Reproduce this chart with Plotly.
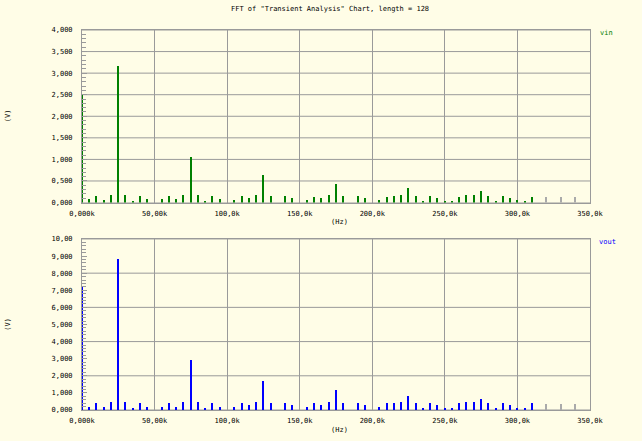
import plotly.graph_objects as go

# ---------------- data ----------------
freq_hz = [0, 5000, 10000, 15000, 20000, 25000, 30000, 35000, 40000, 45000,
           50000, 55000, 60000, 65000, 70000, 75000, 80000, 85000, 90000, 95000,
           100000, 105000, 110000, 115000, 120000, 125000, 130000, 135000, 140000, 145000,
           150000, 155000, 160000, 165000, 170000, 175000, 180000, 185000, 190000, 195000,
           200000, 205000, 210000, 215000, 220000, 225000, 230000, 235000, 240000, 245000,
           250000, 255000, 260000, 265000, 270000, 275000, 280000, 285000, 290000, 295000,
           300000, 305000, 310000]

vin = [2.50, 0.08, 0.15, 0.05, 0.17, 3.17, 0.17, 0.03, 0.15, 0.08,
       0.00, 0.08, 0.15, 0.08, 0.17, 1.05, 0.17, 0.03, 0.15, 0.08,
       0.00, 0.05, 0.15, 0.10, 0.17, 0.63, 0.15, 0.00, 0.15, 0.10,
       0.00, 0.05, 0.14, 0.10, 0.17, 0.44, 0.15, 0.00, 0.15, 0.10,
       0.00, 0.05, 0.14, 0.15, 0.17, 0.33, 0.15, 0.04, 0.15, 0.10,
       0.03, 0.04, 0.14, 0.17, 0.17, 0.26, 0.15, 0.04, 0.15, 0.10,
       0.05, 0.04, 0.14]

vout = [7.20, 0.20, 0.40, 0.15, 0.50, 8.85, 0.50, 0.10, 0.40, 0.20,
        0.00, 0.20, 0.40, 0.20, 0.50, 2.90, 0.50, 0.10, 0.40, 0.20,
        0.00, 0.15, 0.40, 0.30, 0.50, 1.70, 0.40, 0.00, 0.40, 0.30,
        0.00, 0.15, 0.40, 0.30, 0.50, 1.15, 0.40, 0.00, 0.40, 0.30,
        0.00, 0.15, 0.40, 0.40, 0.50, 0.85, 0.40, 0.10, 0.40, 0.30,
        0.10, 0.10, 0.40, 0.50, 0.50, 0.65, 0.40, 0.10, 0.40, 0.30,
        0.10, 0.10, 0.40]

extra_freq_hz = [320000, 330000, 340000]
extra_top = [0.14, 0.14, 0.14]
extra_bottom = [0.35, 0.35, 0.35]

x_tickvals = [0, 50000, 100000, 150000, 200000, 250000, 300000, 350000]
x_ticktext = ["0,000k", "50,00k", "100,0k", "150,0k", "200,0k", "250,0k", "300,0k", "350,0k"]

top_tickvals = [0, 0.5, 1.0, 1.5, 2.0, 2.5, 3.0, 3.5, 4.0]
top_ticktext = ["0,000", "0,500", "1,000", "1,500", "2,000", "2,500", "3,000", "3,500", "4,000"]

bot_tickvals = [0, 1, 2, 3, 4, 5, 6, 7, 8, 9, 10]
bot_ticktext = ["0,000", "1,000", "2,000", "3,000", "4,000", "5,000", "6,000",
                "7,000", "8,000", "9,000", "10,00"]
bot_gridvals = [0, 2, 4, 6, 8, 10]

title_text = 'FFT of "Transient Analysis" Chart, length = 128'

# ---------------- styling ----------------
BG = "#FFFDE7"
GRID = "#9a9a9a"
GREEN = "#008000"
BLUE = "#0000FF"
FONT = "DejaVu Sans Mono"
W, H = 642, 441
L, R, T, B = 82, 52, 29.5, 30.5
ph = H - T - B
pw = W - L - R

def py(px):
    return (H - B - px) / ph

def pxx(px):
    return (px - L) / pw

BW = 900
fig = go.Figure()

fig.add_trace(go.Bar(x=freq_hz, y=vin, width=BW, marker=dict(color=GREEN, line=dict(width=0)),
                     xaxis="x", yaxis="y", showlegend=False, name="vin"))
fig.add_trace(go.Bar(x=extra_freq_hz, y=extra_top, width=BW, marker=dict(color="#aaaaaa", line=dict(width=0)),
                     xaxis="x", yaxis="y", showlegend=False))
fig.add_trace(go.Bar(x=freq_hz, y=vout, width=BW, marker=dict(color=BLUE, line=dict(width=0)),
                     xaxis="x2", yaxis="y2", showlegend=False, name="vout"))
fig.add_trace(go.Bar(x=extra_freq_hz, y=extra_bottom, width=BW, marker=dict(color="#aaaaaa", line=dict(width=0)),
                     xaxis="x2", yaxis="y2", showlegend=False))

tf = dict(family=FONT, size=7, color="black")
xcommon = dict(range=[0, 350000], tickvals=x_tickvals, ticktext=x_ticktext,
               showgrid=True, gridcolor=GRID, gridwidth=1,
               showline=True, linecolor=GRID, linewidth=1, mirror=True,
               ticks="", zeroline=False, tickfont=tf, automargin=False,
               ticklabelstandoff=4)

ycommon = dict(showgrid=False, zeroline=False,
               showline=True, linecolor=GRID, linewidth=1, mirror=True,
               ticks="inside", ticklen=5, tickcolor=GRID,
               tickfont=tf, automargin=False, ticklabelstandoff=7)

fig.update_layout(
    width=W, height=H,
    margin=dict(l=L, r=R, t=T, b=B, pad=0),
    paper_bgcolor=BG, plot_bgcolor=BG,
    bargap=0,
    showlegend=False,
    hovermode=False,
    xaxis=dict(domain=[0, 1], anchor="y", **xcommon),
    yaxis=dict(domain=[py(202.5), 1], anchor="x", range=[0, 4.0],
               tickvals=top_tickvals, ticktext=top_ticktext,
               minor=dict(dtick=0.1, ticks="inside", ticklen=4, tickcolor=GRID,
                          showgrid=False), **ycommon),
    xaxis2=dict(domain=[0, 1], anchor="y2", **xcommon),
    yaxis2=dict(domain=[0, py(239)], anchor="x2", range=[0, 10],
                tickvals=bot_tickvals, ticktext=bot_ticktext,
                minor=dict(dtick=0.2, ticks="inside", ticklen=4, tickcolor=GRID,
                           showgrid=False), **ycommon),
    annotations=[
        dict(text=title_text, xref="paper", yref="paper", x=pxx(330), y=py(8),
             showarrow=False, xanchor="center", yanchor="middle", font=tf),
        dict(text="vin", xref="paper", yref="paper", x=pxx(598), y=py(33),
             showarrow=False, xanchor="left", yanchor="middle",
             font=dict(family=FONT, size=7, color=GREEN)),
        dict(text="vout", xref="paper", yref="paper", x=pxx(597), y=py(242),
             showarrow=False, xanchor="left", yanchor="middle",
             font=dict(family=FONT, size=7, color=BLUE)),
        dict(text="(V)", xref="paper", yref="paper", x=pxx(8), y=py(116),
             showarrow=False, textangle=-90, xanchor="center", yanchor="middle", font=tf),
        dict(text="(V)", xref="paper", yref="paper", x=pxx(8), y=py(325),
             showarrow=False, textangle=-90, xanchor="center", yanchor="middle", font=tf),
        dict(text="(Hz)", xref="paper", yref="paper", x=pxx(339), y=py(222),
             showarrow=False, xanchor="center", yanchor="middle", font=tf),
        dict(text="(Hz)", xref="paper", yref="paper", x=pxx(339), y=py(431),
             showarrow=False, xanchor="center", yanchor="middle", font=tf),
    ],
)

# horizontal grid lines drawn through shapes tied to the axes' own values
for v in top_tickvals:
    fig.add_shape(type="line", xref="x domain", yref="y", x0=0, x1=1, y0=v, y1=v,
                  line=dict(color=GRID, width=1), layer="below")
for v in bot_gridvals:
    fig.add_shape(type="line", xref="x2 domain", yref="y2", x0=0, x1=1, y0=v, y1=v,
                  line=dict(color=GRID, width=1), layer="below")

fig.write_html("out.html",
               config={"displayModeBar": False},
               post_script="document.body.style.margin='0';document.body.style.background='" + BG + "';")
